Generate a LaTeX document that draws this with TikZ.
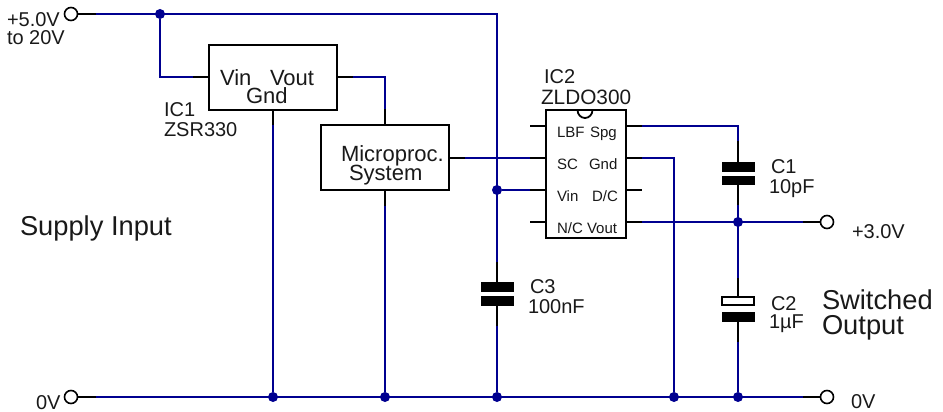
\documentclass[tikz,border=0pt]{standalone}
\usepackage{fontspec}
\setmainfont{Liberation Sans}
\definecolor{wire}{RGB}{0,0,144}
\newcommand{\fs}[1]{\fontsize{#1}{#1}\selectfont}
\tikzset{
  lbl/.style={anchor=base west,inner sep=0pt,outer sep=0pt,text=black!90},
  lbla/.style={lbl,font=\fs{20}},
  lblb/.style={lbl,font=\fs{22}},
  lblc/.style={lbl,font=\fs{15}},
  lbld/.style={lbl,font=\fs{27.3}},
  box/.style={draw=black,line width=1.7pt,fill=white,inner sep=0pt,outer sep=0pt},
  term/.style={circle,draw=black,line width=1.6pt,fill=white,minimum size=13pt,inner sep=0pt,outer sep=0pt},
  junc/.style={circle,fill=wire,minimum size=10pt,inner sep=0pt,outer sep=0pt},
  plate/.style={rectangle,fill=black,minimum width=33pt,minimum height=9.5pt,inner sep=0pt,outer sep=0pt},
  oplate/.style={rectangle,draw=black,line width=1.4pt,fill=white,minimum width=32pt,minimum height=8pt,inner sep=0pt,outer sep=0pt},
  bw/.style={draw=wire,line width=1.8pt,line join=miter},
  kw/.style={draw=black,line width=1.8pt},
}
\begin{document}
\begin{tikzpicture}[x=1pt,y=-1pt]
\useasboundingbox (0,0) rectangle (943,412);
% boxes
\node[box,minimum width=128pt,minimum height=65pt] (ic1) at (273,77.5) {};
\node[box,minimum width=128pt,minimum height=65pt] (mp) at (385,157.5) {};
\node[box,minimum width=80pt,minimum height=128pt] (ic2) at (586,174) {};
\draw[kw] (577.5,110) arc[start angle=180,end angle=360,x radius=7.5,y radius=-8];
% terminals
\node[term] (tin) at (71,14) {};
\node[term] (tgnd) at (71,397) {};
\node[term] (tout) at (827,222) {};
\node[term] (tgr) at (827,397) {};
% capacitors
\node[plate] (c1a) at (738,167) {};
\node[plate] (c1b) at (738,180.5) {};
\node[oplate] (c2a) at (738,301) {};
\node[plate,minimum height=10.5pt] (c2b) at (738,317) {};
\node[plate] (c3a) at (497,287) {};
\node[plate] (c3b) at (497,301) {};
% junctions
\node[junc] (j1) at (160,14) {};
\node[junc] (j2) at (497,190) {};
\node[junc] (j3) at (738,222) {};
\node[junc] (g1) at (273,397) {};
\node[junc] (g2) at (385,397) {};
\node[junc] (g3) at (497,397) {};
\node[junc] (g4) at (674,397) {};
\node[junc] (g5) at (738,397) {};
% connection points
\coordinate (a1) at (96,14);
\coordinate (a2) at (497,14);
\coordinate (a3) at (160,77);
\coordinate (a4) at (193,77);
\coordinate (a5) at (209,77);
\coordinate (a6) at (337,77);
\coordinate (a7) at (353,77);
\coordinate (a8) at (385,77);
\coordinate (a9) at (385,109);
\coordinate (a10) at (385,125);
\coordinate (b1) at (273,110);
\coordinate (b2) at (273,125);
\coordinate (b3) at (385,190);
\coordinate (b4) at (385,206);
\coordinate (m1) at (449,158);
\coordinate (m2) at (465,158);
\coordinate (m3) at (530,158);
\coordinate (m4) at (546,158);
\coordinate (v1) at (530,190);
\coordinate (v2) at (546,190);
\coordinate (l1) at (530,126);
\coordinate (l2) at (546,126);
\coordinate (n1) at (530,222);
\coordinate (n2) at (546,222);
\coordinate (s1) at (626,126);
\coordinate (s2) at (642,126);
\coordinate (s3) at (738,126);
\coordinate (s4) at (738,141);
\coordinate (d1) at (626,158);
\coordinate (d2) at (642,158);
\coordinate (d3) at (674,158);
\coordinate (e1) at (626,190);
\coordinate (e2) at (642,190);
\coordinate (o1) at (626,222);
\coordinate (o2) at (642,222);
\coordinate (o3) at (803,222);
\coordinate (c1) at (738,205);
\coordinate (c2) at (738,278);
\coordinate (c3) at (738,342);
\coordinate (c4) at (497,262);
\coordinate (c5) at (497,326);
\coordinate (z1) at (96,397);
\coordinate (z2) at (803,397);
% blue wires
\draw[bw] (a1) -- (a2) -- (c4);
\draw[bw] (j1) -- (a3) -- (a4);
\draw[bw] (a7) -- (a8) -- (a9);
\draw[bw] (b2) -- (g1);
\draw[bw] (b4) -- (g2);
\draw[bw] (m2) -- (m3);
\draw[bw] (j2) -- (v1);
\draw[bw] (s2) -- (s3) -- (s4);
\draw[bw] (d2) -- (d3) -- (g4);
\draw[bw] (o2) -- (o3);
\draw[bw] (c1) -- (c2);
\draw[bw] (c3) -- (g5);
\draw[bw] (c5) -- (g3);
\draw[bw] (z1) -- (z2);
% black leads
\draw[kw] (tin) -- (a1);
\draw[kw] (a4) -- (a5);
\draw[kw] (a6) -- (a7);
\draw[kw] (a9) -- (a10);
\draw[kw] (b1) -- (b2);
\draw[kw] (b3) -- (b4);
\draw[kw] (m1) -- (m2);
\draw[kw] (m3) -- (m4);
\draw[kw] (v1) -- (v2);
\draw[kw] (l1) -- (l2);
\draw[kw] (n1) -- (n2);
\draw[kw] (s1) -- (s2);
\draw[kw] (d1) -- (d2);
\draw[kw] (e1) -- (e2);
\draw[kw] (o1) -- (o2);
\draw[kw] (s4) -- (c1a);
\draw[kw] (c1b) -- (c1);
\draw[kw] (c2) -- (c2a);
\draw[kw] (c2b) -- (c3);
\draw[kw] (c4) -- (c3a);
\draw[kw] (c3b) -- (c5);
\draw[kw] (o3) -- (tout);
\draw[kw] (tgnd) -- (z1);
\draw[kw] (z2) -- (tgr);
% labels
\node[lbla] (t1) at (7,27) {+5.0V};
\node[lbla] (t2) at (7,45) {to 20V};
\node[lblb] (t3) at (220,85) {Vin};
\node[lblb] (t4) at (270,85) {Vout};
\node[lblb] (t5) at (246,103) {Gnd};
\node[lbla] (t6) at (164,116) {IC1};
\node[lbla] (t7) at (164,136) {ZSR330};
\node[lblb] (t8) at (341,161) {Microproc.};
\node[lblb] (t9) at (349,180) {System};
\node[lbla] (t10) at (544,84) {IC2};
\node[lbl,font=\fs{20.8}] (t11) at (541,105) {ZLDO300};
\node[lblc] (p1) at (557,137) {LBF};
\node[lblc] (p2) at (590,137) {Spg};
\node[lblc] (p3) at (557,169) {SC};
\node[lblc] (p4) at (589,169) {Gnd};
\node[lblc] (p5) at (557,201) {Vin};
\node[lblc] (p6) at (592,201) {D/C};
\node[lblc] (p7) at (557,233) {N/C};
\node[lblc] (p8) at (587,233) {Vout};
\node[lbla] (t12) at (771,173) {C1};
\node[lbla] (t13) at (769,193) {10pF};
\node[lbla] (t14) at (852,238) {+3.0V};
\node[lbla] (t15) at (771,310) {C2};
\node[lbla] (t16) at (769,328) {1µF};
\node[lbld] (t17) at (822,309) {Switched};
\node[lbld] (t18) at (822,334) {Output};
\node[lbla] (t19) at (851,408) {0V};
\node[lbla] (t20) at (530,293) {C3};
\node[lbla] (t21) at (528,313) {100nF};
\node[lbld] (t22) at (20,235) {Supply Input};
\node[lbla] (t23) at (36,409) {0V};
\end{tikzpicture}
\end{document}
